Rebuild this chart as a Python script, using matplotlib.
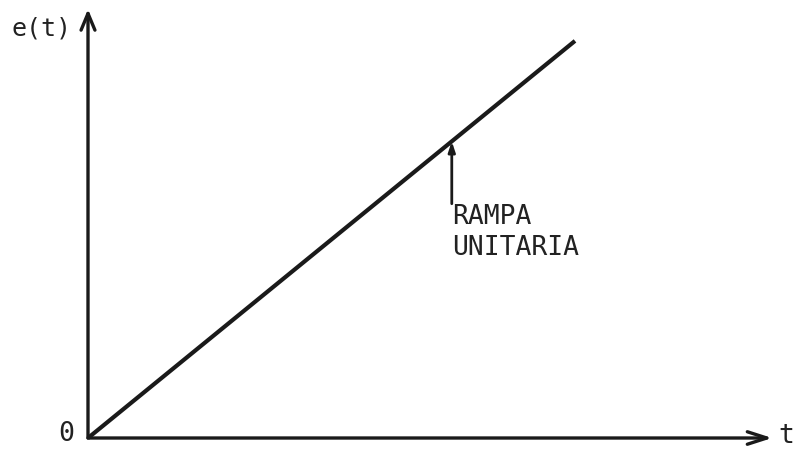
import matplotlib
matplotlib.use("Agg")
import matplotlib.pyplot as plt
import numpy as np

# rampa unitaria e(t) = t
t = np.array([0.0, 10.0])
e = np.array([0.0, 10.0])
t_axis_end = 14.05
e_axis_end = 10.8
label_t = 7.47
label_tail = 5.9

fig = plt.figure(figsize=(7.99, 4.55), dpi=100)
ax = fig.add_axes([0, 0, 1, 1])
ax.set_xlim(-1.807, 14.6)
ax.set_ylim(-0.428, 11.03)
ax.axis("off")

mono = "DejaVu Sans Mono"

# ejes
ax.annotate("", xy=(t_axis_end, 0), xytext=(0, 0),
            arrowprops=dict(arrowstyle="->,head_length=1.4,head_width=0.45",
                            lw=2.4, color="#1a1a1a", shrinkA=0, shrinkB=0))
ax.annotate("", xy=(0, e_axis_end), xytext=(0, 0),
            arrowprops=dict(arrowstyle="->,head_length=1.2,head_width=0.5",
                            lw=2.4, color="#1a1a1a", shrinkA=0, shrinkB=0))

# rampa
ax.plot(t, e, color="#1a1a1a", lw=3, solid_capstyle="butt")

# flecha de la etiqueta
ax.annotate("", xy=(label_t, label_t), xytext=(label_t, label_tail),
            arrowprops=dict(arrowstyle="-|>,head_length=0.6,head_width=0.2",
                            lw=2, color="#1a1a1a", shrinkA=0, shrinkB=0))
ax.text(label_t, label_tail, "RAMPA\nUNITARIA", family=mono, fontsize=19,
        ha="left", va="top", linespacing=1.25, color="#222222")

ax.text(-0.33, 10.3, "e(t)", family=mono, fontsize=18,
        ha="right", va="center", color="#222222")
ax.text(-0.45, 0.1, "0", family=mono, fontsize=19,
        ha="center", va="center", color="#222222")
ax.text(t_axis_end + 0.12, 0.05, "t", family=mono, fontsize=19,
        ha="left", va="center", color="#222222")

fig.savefig("out.png", dpi=100)
